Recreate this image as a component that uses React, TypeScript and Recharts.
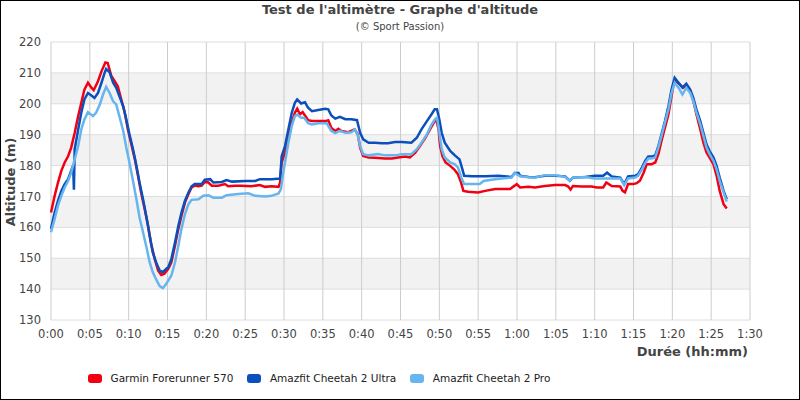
import { LineChart, Line, XAxis, YAxis, CartesianGrid } from "recharts";

// altitude samples: [minutes, metres]
const garmin570: [number, number][] = [
  [0, 164.8], [0.47, 170.2], [0.9, 174.5], [1.33, 178.3], [1.76, 181], [2.2, 183], [2.6, 185.8], [3.05, 190.6],
  [3.5, 196], [3.9, 200.3], [4.3, 204.6], [4.76, 206.8], [5.2, 205.2], [5.5, 204.4], [6.05, 207.3], [6.5, 210.5],
  [7.0, 213.4], [7.3, 213.2], [7.77, 209], [8.2, 207.3], [8.6, 205.7], [9.05, 201.4], [9.5, 197.1], [9.9, 191.7],
  [10.3, 187.4], [10.8, 182], [11.2, 176.7], [11.6, 171.3], [12.06, 165.9], [12.5, 160.5], [12.9, 154.6],
  [13.35, 149.8], [13.8, 146], [14.2, 144.6], [14.6, 145], [15.1, 146.6], [15.5, 148.7], [15.97, 154.1],
  [16.4, 159.5], [16.8, 163.8], [17.25, 168.1], [17.7, 170.8], [18.1, 172.9], [18.5, 173.5], [19.0, 173.3],
  [19.4, 173.5], [19.8, 174.7], [20.26, 174.5], [20.7, 173.5], [21.55, 173.5], [22.4, 174], [22.8, 173.3],
  [23.7, 173.5], [24.5, 173.5], [25.8, 173.3], [26.9, 173.7], [27.56, 173.1], [28.4, 173.3], [29.3, 173.1],
  [29.5, 174.5], [29.7, 181], [30.13, 184.2], [30.56, 189.6], [31.0, 193.9], [31.4, 197.1], [31.7, 198.4],
  [32.06, 196.6], [32.4, 197.3], [32.7, 196.2], [33.1, 194.7], [33.6, 194.4], [34.4, 194.4], [35.3, 194.4],
  [35.7, 194.7], [36.1, 192.2], [36.6, 191.2], [37.0, 191.9], [37.4, 191.2], [38.3, 190.8], [39.1, 191.7],
  [39.5, 190.1], [39.8, 185.8], [40.2, 183.1], [40.9, 182.6], [41.7, 182.5], [43.0, 182.3], [43.9, 182.3],
  [44.7, 182.6], [45.6, 182.9], [46.2, 182.6], [46.9, 184.2], [47.5, 186.3], [48.2, 189], [48.8, 191.7],
  [49.4, 194.4], [49.6, 194.9], [49.9, 191.7], [50.1, 186.3], [50.4, 183.1], [50.8, 181], [51.4, 179.9],
  [51.9, 178.8], [52.4, 177.2], [52.8, 174.5], [53.1, 171.8], [53.7, 171.5], [55.0, 171.3], [55.9, 171.8],
  [57.2, 172.4], [58.0, 172.4], [59.1, 172.4], [59.7, 173.5], [59.96, 174], [60.4, 172.9], [61.5, 173.1],
  [62.3, 172.9], [63.6, 173.4], [64.9, 173.7], [66.2, 173.7], [66.6, 173.2], [66.9, 172.2], [67.2, 173.4],
  [68.3, 173.2], [69.6, 173.2], [70.3, 172.9], [71.1, 172.9], [71.5, 174.5], [72.2, 173.4], [73.3, 173.2],
  [73.6, 171.8], [73.9, 171.3], [74.3, 174], [75.0, 174], [75.4, 174.3], [75.83, 175.1], [76.3, 177.7],
  [76.7, 180.4], [77.3, 180.4], [77.8, 181], [78.2, 183.7], [78.6, 188], [79.05, 192.3], [79.5, 196.6],
  [79.9, 202.5], [80.2, 206.8], [80.5, 207.3], [81.0, 206.2], [81.4, 205.2], [81.8, 205.9], [82.3, 204.1],
  [82.7, 200.9], [83.1, 196.6], [83.6, 191.7], [84.0, 187.4], [84.4, 184.2], [84.8, 182.6], [85.3, 180.4],
  [85.7, 176.7], [86.1, 171.8], [86.6, 167.5], [87.0, 166.1],
];

const cheetah2Ultra: [number, number][] = [
  [0, 159.5], [0.47, 164.8], [0.9, 168.6], [1.33, 171.8], [1.76, 174], [2.2, 175.6], [2.6, 178.3], [2.85, 180],
  [2.95, 172.2], [3.05, 185.3], [3.5, 191.7], [3.9, 197.1], [4.3, 201.4], [4.76, 203.5], [5.2, 202.7],
  [5.6, 201.9], [6.05, 203.5], [6.5, 206.8], [6.9, 210], [7.1, 211.3], [7.55, 210.2], [8.0, 206.8],
  [8.4, 205.2], [8.8, 202.5], [9.3, 199.2], [9.7, 194.9], [10.1, 190.1], [10.56, 185.3], [11.0, 179.9],
  [11.4, 174.5], [11.85, 169.1], [12.3, 163.2], [12.7, 157.3], [13.1, 151.9], [13.6, 148.2], [14.0, 146],
  [14.4, 145.5], [14.85, 146.6], [15.1, 147.1], [15.5, 149.8], [15.97, 155.2], [16.4, 160.5], [16.8, 164.8],
  [17.25, 168.6], [17.7, 171.3], [18.1, 173.3], [18.5, 174], [19.4, 174], [19.8, 175.4], [20.5, 175.6],
  [20.9, 174.5], [22.0, 174.7], [22.6, 175.3], [23.3, 174.8], [25.0, 175], [26.3, 175], [26.9, 175.6],
  [28.4, 175.6], [29.5, 175.8], [29.7, 183], [30.13, 186.3], [30.56, 191.7], [31.0, 197.1], [31.4, 200.3],
  [31.7, 201.4], [32.2, 200.1], [32.7, 200.5], [33.1, 198.7], [33.6, 197.6], [34.4, 198], [35.3, 198.4],
  [35.7, 198.2], [36.1, 196.2], [36.6, 195.2], [37.2, 195.8], [37.9, 195], [38.7, 195], [39.4, 194.7],
  [39.8, 190.6], [40.2, 188.5], [40.9, 187.4], [41.7, 187.4], [42.6, 187.2], [43.4, 187.2], [44.3, 187.6],
  [45.15, 187.6], [46.4, 187.4], [47.1, 189], [47.7, 191.7], [48.4, 194.4], [49.0, 196.6], [49.4, 198.2],
  [49.7, 198.2], [50.0, 194.9], [50.3, 190.6], [50.7, 187.4], [51.4, 184.7], [52.0, 183.3], [52.6, 182],
  [52.9, 179.4], [53.2, 176.7], [54.2, 176.5], [55.9, 176.5], [57.6, 176.7], [59.3, 176.3], [59.7, 177.6],
  [60.2, 177.6], [60.4, 176.7], [61.5, 176.3], [62.3, 176.2], [63.6, 176.7], [64.9, 176.7], [66.2, 176.5],
  [66.8, 175.1], [67.2, 176.1], [68.8, 176.3], [70.0, 176.7], [71.1, 176.7], [71.6, 177.7], [72.2, 176.5],
  [73.3, 176.1], [73.8, 174], [74.3, 176.5], [75.2, 176.7], [75.6, 177.2], [76.1, 179.4], [76.5, 181.5],
  [76.9, 182.9], [77.3, 182.9], [77.8, 183.3], [78.2, 186.3], [78.6, 190.1], [79.05, 194.4], [79.5, 199.2],
  [79.9, 204.6], [80.3, 208.4], [80.8, 206.8], [81.3, 205.2], [81.8, 206.5], [82.3, 204.6], [82.7, 201.9],
  [83.1, 198.2], [83.6, 194.4], [84.0, 190.6], [84.4, 186.9], [84.8, 184.7], [85.3, 182.6], [85.7, 179.9],
  [86.1, 176.1], [86.6, 171.8], [87.0, 169.1],
];

const cheetah2Pro: [number, number][] = [
  [0, 158.4], [0.47, 162.7], [0.9, 167], [1.33, 170.2], [1.76, 172.9], [2.2, 175], [2.6, 177.7], [3.05, 182],
  [3.5, 186.3], [3.9, 191.7], [4.3, 194.9], [4.76, 197.3], [5.4, 196], [5.8, 197.1], [6.3, 199.8], [6.7, 203],
  [7.1, 205.5], [7.55, 203.5], [8.0, 200.8], [8.4, 199.8], [8.8, 196], [9.3, 191.2], [9.7, 185.8], [10.1, 181],
  [10.56, 175], [11.0, 169.1], [11.4, 163.2], [11.85, 158.4], [12.3, 153.5], [12.7, 148.7], [13.1, 145.5],
  [13.6, 142.8], [14.0, 141], [14.4, 140.3], [14.85, 141.7], [15.1, 142.8], [15.5, 144.4], [15.97, 148.7],
  [16.4, 154.1], [16.8, 159.5], [17.25, 164.3], [17.7, 167.5], [18.1, 168.9], [19.0, 169.1], [19.6, 170.2],
  [20.26, 170.4], [20.9, 169.6], [22.0, 169.6], [22.6, 170.4], [24.1, 170.8], [25.4, 171], [26.3, 170.2],
  [27.56, 170], [28.4, 170.2], [29.3, 171], [29.6, 172.3], [29.9, 177.7], [30.13, 181], [30.56, 187.4],
  [31.0, 192.8], [31.4, 196], [31.7, 196.5], [32.2, 195.5], [32.6, 195.5], [33.1, 193.7], [33.6, 193.3],
  [34.4, 193.7], [35.5, 193.7], [36.1, 191.2], [36.6, 190.5], [37.2, 191.2], [37.9, 190.6], [38.7, 190.8],
  [39.1, 191.7], [39.5, 189.8], [39.8, 186.3], [40.2, 183.7], [40.9, 183.3], [42.1, 183.7], [43.0, 183.3],
  [44.3, 183.3], [45.15, 183.7], [46.4, 183.7], [47.1, 185.3], [47.7, 187.4], [48.4, 190.1], [49.0, 193.3],
  [49.4, 194.9], [49.7, 195.5], [50.0, 190.6], [50.3, 185.3], [50.7, 182.6], [51.4, 181], [52.0, 180.4],
  [52.4, 179.4], [52.9, 175.6], [53.2, 174], [54.2, 174], [55.2, 174], [55.7, 175], [56.7, 175.4], [58.0, 175.8],
  [59.3, 176.1], [59.7, 177.6], [60.4, 176.5], [61.5, 176.2], [62.3, 176.1], [63.6, 176.9], [64.9, 176.9],
  [66.2, 176.3], [66.8, 175.1], [67.2, 176.1], [68.8, 176.3], [70.0, 175.8], [72.2, 175.8], [73.3, 175.8],
  [73.8, 173.7], [74.3, 175.8], [75.2, 176.1], [75.6, 176.7], [76.1, 178.8], [76.5, 180.8], [76.9, 182.3],
  [77.3, 182.3], [77.8, 182.6], [78.2, 185.8], [78.6, 189.6], [79.05, 193.9], [79.5, 198.2], [79.9, 203.5],
  [80.3, 206.8], [80.8, 205.2], [81.3, 203], [81.8, 205.2], [82.3, 203.5], [82.7, 200.9], [83.1, 197.1],
  [83.6, 193.3], [84.0, 189.6], [84.4, 185.8], [84.8, 183.7], [85.3, 181.5], [85.7, 178.8], [86.1, 175],
  [86.6, 171.3], [87.0, 168.3],
];

const xTicks = [0, 5, 10, 15, 20, 25, 30, 35, 40, 45, 50, 55, 60, 65, 70, 75, 80, 85, 90];
const yTicks = [130, 140, 150, 160, 170, 180, 190, 200, 210, 220];

const series = [
  { name: "Garmin Forerunner 570", color: "#f00012", points: garmin570 },
  { name: "Amazfit Cheetah 2 Ultra", color: "#0b4fbd", points: cheetah2Ultra },
  { name: "Amazfit Cheetah 2 Pro", color: "#66b5ef", points: cheetah2Pro },
];

const font = "'DejaVu Sans', sans-serif";

const fmtTime = (m: number) => `${Math.floor(m / 60)}:${String(m % 60).padStart(2, "0")}`;

export default function App() {
  return (
    <div style={{ position: "absolute", left: 0, top: 0, width: 800, height: 400, background: "#fff", fontFamily: font }}>
      <div style={{ position: "absolute", top: 2, width: 800, textAlign: "center", fontSize: 13, fontWeight: "bold", color: "#444" }}>
        Test de l'altimètre - Graphe d'altitude
      </div>
      <div style={{ position: "absolute", top: 21, width: 800, textAlign: "center", fontSize: 10, color: "#444" }}>
        (© Sport Passion)
      </div>

      <LineChart width={800} height={400} margin={{ top: 42, right: 50, bottom: 50, left: 0 }}>
        <CartesianGrid vertical={false} stroke="#dedede" horizontalFill={["#ffffff", "#f2f2f2"]} />
        <CartesianGrid horizontal={false} stroke="#cccccc" />
        <XAxis
          type="number"
          dataKey="t"
          domain={[0, 90]}
          ticks={xTicks}
          tickFormatter={fmtTime}
          axisLine={false}
          tickLine={false}
          tickSize={0}
          tickMargin={10}
          interval={0}
          allowDuplicatedCategory={false}
          tick={{ fontSize: 11.5, fill: "#444", fontFamily: font }}
        />
        <YAxis
          type="number"
          domain={[130, 220]}
          ticks={yTicks}
          width={51}
          axisLine={false}
          tickLine={false}
          tickSize={0}
          tickMargin={10}
          interval={0}
          tick={{ fontSize: 11.5, fill: "#444", fontFamily: font }}
        />
        {series.map((s) => (
          <Line
            key={s.name}
            data={s.points.map(([t, alt]) => ({ t, alt }))}
            dataKey="alt"
            type="linear"
            stroke={s.color}
            strokeWidth={2.5}
            dot={false}
            activeDot={false}
            isAnimationActive={false}
          />
        ))}
      </LineChart>

      <div
        style={{
          position: "absolute", left: 9.5, top: 181.5, transform: "translate(-50%, -50%) rotate(-90deg)",
          whiteSpace: "nowrap", fontSize: 13, fontWeight: "bold", color: "#444",
        }}
      >
        Altitude (m)
      </div>
      <div style={{ position: "absolute", right: 52, top: 344, fontSize: 13, fontWeight: "bold", color: "#444", whiteSpace: "nowrap" }}>
        Durée (hh:mm)
      </div>

      <div style={{ position: "absolute", left: 88, top: 372, display: "flex", alignItems: "center", fontSize: 10.5, color: "#222" }}>
        {series.map((s) => (
          <div key={s.name} style={{ display: "flex", alignItems: "center", marginRight: 14 }}>
            <span style={{ display: "inline-block", width: 14, height: 9, borderRadius: 3, background: s.color, marginRight: 8.5 }} />
            <span style={{ whiteSpace: "nowrap" }}>{s.name}</span>
          </div>
        ))}
      </div>

      <div style={{ position: "absolute", left: 0, top: 0, width: 800, height: 400, boxSizing: "border-box", border: "1px solid #000", pointerEvents: "none" }} />
    </div>
  );
}
